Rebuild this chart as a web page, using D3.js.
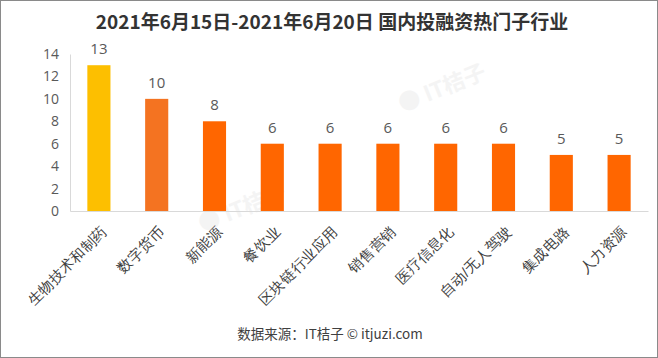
<!DOCTYPE html>
<html>
<head>
<meta charset="utf-8">
<script src="https://cdn.jsdelivr.net/npm/d3@7"></script>
<style>
  body { margin:0; background:#fff; }
  svg { display:block; font-family:"Noto Sans CJK SC","Microsoft YaHei",sans-serif; }
</style>
</head>
<body>
<div class="svg-container"></div>
<script>
//chart data
const categories = ['生物技术和制药','数字货币','新能源','餐饮业','区块链行业应用','销售营销','医疗信息化','自动/无人驾驶','集成电路','人力资源'];
const values = [13,10,8,6,6,6,6,6,5,5];
const yTicks = [0,2,4,6,8,10,12,14];
const barColors = ['#FDBF00','#F47321','#FF6600','#FF6600','#FF6600','#FF6600','#FF6600','#FF6600','#FF6600','#FF6600'];

const title = '2021年6月15日-2021年6月20日 国内投融资热门子行业';
const source = '数据来源：IT桔子 © itjuzi.com';

//required dimensions
const width = 658;
const height = 358;
const margin = { top:54, right:10, bottom:147, left:70 };

const svg = d3.select('.svg-container')
    .append('svg')
    .attr('width', width)
    .attr('height', height);

//frame
svg.append('rect')
    .attr('x', 0.5).attr('y', 0.5)
    .attr('width', width-1).attr('height', height-1)
    .attr('fill', '#fff')
    .attr('stroke', '#8a8a8a');

//watermarks
[[445, 95], [245, 215]].forEach(p => {
    svg.append('text')
        .attr('transform', `translate(${p[0]},${p[1]}) rotate(-22)`)
        .attr('text-anchor', 'middle')
        .attr('font-size', 22)
        .attr('font-weight', 'bold')
        .attr('fill', '#f4f4f4')
        .text('● IT桔子');
});

//scales
const xScale = d3.scaleBand()
    .domain(categories)
    .range([margin.left, width-margin.right])
    .paddingInner(0.6)
    .paddingOuter(0.3);

const yScale = d3.scaleLinear()
    .domain([0, 14])
    .range([height-margin.bottom, margin.top]);

//y axis
const yAxis = d3.axisLeft(yScale)
    .tickValues(yTicks)
    .tickSize(0)
    .tickPadding(11);

svg.append('g')
    .attr('class', 'y-axis')
    .attr('transform', `translate(${margin.left},0)`)
    .call(yAxis)
    .call(g => g.select('.domain').attr('stroke', '#d9d9d9'))
    .call(g => g.selectAll('text')
        .attr('font-size', 14)
        .attr('fill', '#595959')
        .attr('font-family', '"Open Sans","Noto Sans",sans-serif'));

//x axis
const xAxis = d3.axisBottom(xScale).tickSize(0).tickSizeOuter(0);

svg.append('g')
    .attr('class', 'x-axis')
    .attr('transform', `translate(0,${height-margin.bottom})`)
    .call(xAxis)
    .call(g => g.select('.domain').attr('stroke', '#d9d9d9'))
    .call(g => g.selectAll('text')
        .attr('font-size', 14.5)
        .attr('fill', '#404040')
        .attr('text-anchor', 'end')
        .attr('dy', 0)
        .attr('y', 0)
        .attr('transform', 'translate(9,21) rotate(-45)'));

//bars
svg.selectAll('.bars')
    .data(values)
    .join('rect')
    .attr('class', 'bars')
    .attr('x', (d, i) => xScale(categories[i]))
    .attr('y', d => yScale(d))
    .attr('width', xScale.bandwidth())
    .attr('height', d => yScale(0) - yScale(d))
    .attr('fill', (d, i) => barColors[i]);

//value labels
svg.selectAll('.bar-text')
    .data(values)
    .join('text')
    .attr('class', 'bar-text')
    .attr('x', (d, i) => xScale(categories[i]) + xScale.bandwidth()/2)
    .attr('y', d => yScale(d) - 11)
    .attr('text-anchor', 'middle')
    .attr('font-size', 15)
    .attr('font-family', '"Open Sans","Noto Sans",sans-serif')
    .attr('fill', '#595959')
    .text(d => d);

//title
svg.append('text')
    .attr('x', 332)
    .attr('y', 29)
    .attr('text-anchor', 'middle')
    .attr('font-size', 19)
    .attr('font-weight', 'bold')
    .attr('fill', '#333')
    .text(title);

//source note
svg.append('text')
    .attr('x', 330)
    .attr('y', 339)
    .attr('text-anchor', 'middle')
    .attr('font-size', 13.5)
    .attr('fill', '#404040')
    .text(source);
</script>
</body>
</html>
